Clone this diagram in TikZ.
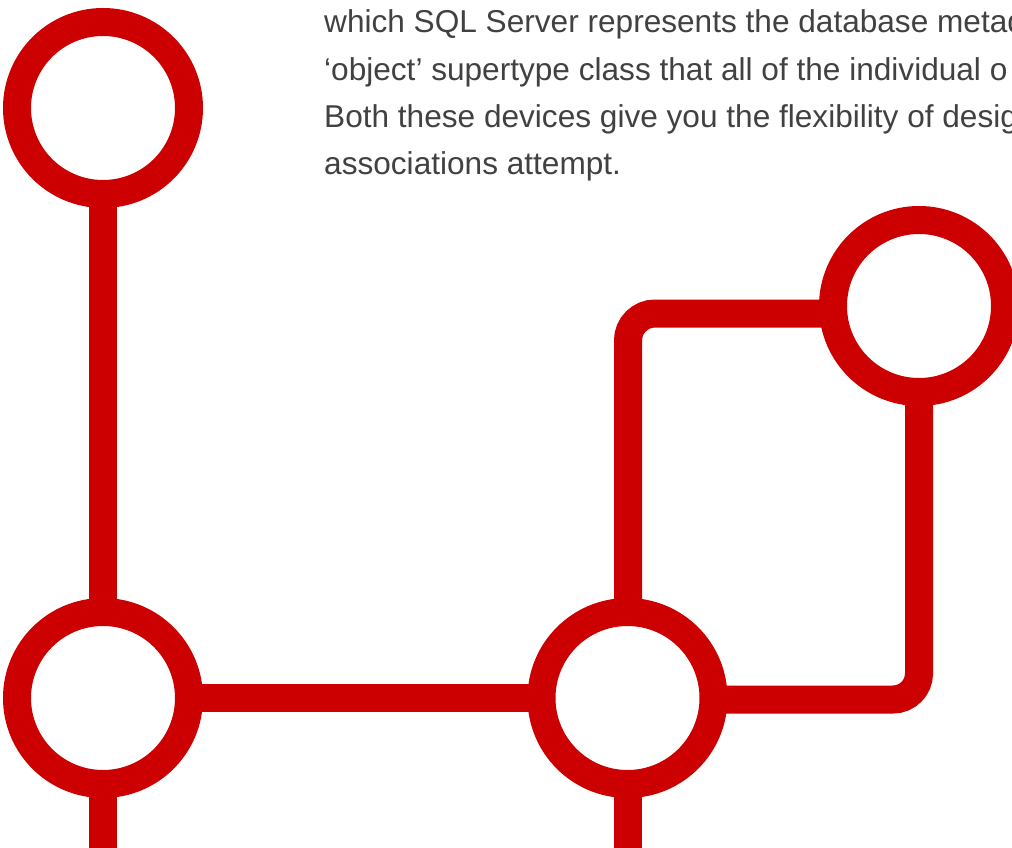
\documentclass[tikz,border=0pt]{standalone}
\usepackage{fontspec}
\setmainfont{Liberation Sans}
\usetikzlibrary{backgrounds}
\definecolor{brandred}{HTML}{CC0000}
\definecolor{bodytext}{HTML}{414141}
\tikzset{
  ring/.style={circle, draw=brandred, fill=white, line width=28pt, minimum size=172pt, inner sep=0pt, outer sep=0pt},
  conn/.style={draw=brandred, line width=28pt},
  txt/.style={anchor=base west, inner sep=0pt, text=bodytext, font=\fontsize{31.6pt}{40pt}\selectfont}
}
\begin{document}
\begin{tikzpicture}[x=1pt,y=-1pt]
\useasboundingbox (0,0) rectangle (1012,848);
\clip (0,0) rectangle (1012,848);
% text
\node[txt] (t1) at (324,33) {which SQL Server represents the database metad};
\node[txt] (t2) at (324,80.5) {‘object’ supertype class that all of the individual o};
\node[txt] (t3) at (324,128) {Both these devices give you the flexibility of desig};
\node[txt] (t4) at (324,175) {associations attempt.};
% circles
\node[ring] (A) at (103,108) {};
\node[ring] (B) at (919,306) {};
\node[ring] (C) at (103,698) {};
\node[ring] (D) at (627.5,698) {};
\coordinate (Cend) at (103,880);
\coordinate (Dend) at (627.5,880);
% connectors
\begin{scope}[on background layer]
\draw[conn] (A.center) -- (C.center);
\draw[conn] (C.center) -- (D.center);
\draw[conn] (C.center) -- (Cend);
\draw[conn] (D.center) -- (Dend);
\draw[conn, rounded corners=27pt] ([xshift=0.5pt]D.center) |- ([yshift=-7.5pt]B.center);
\draw[conn, rounded corners=26pt] ([yshift=-1.5pt]D.center) -| (B.center);
\end{scope}
\end{tikzpicture}
\end{document}
